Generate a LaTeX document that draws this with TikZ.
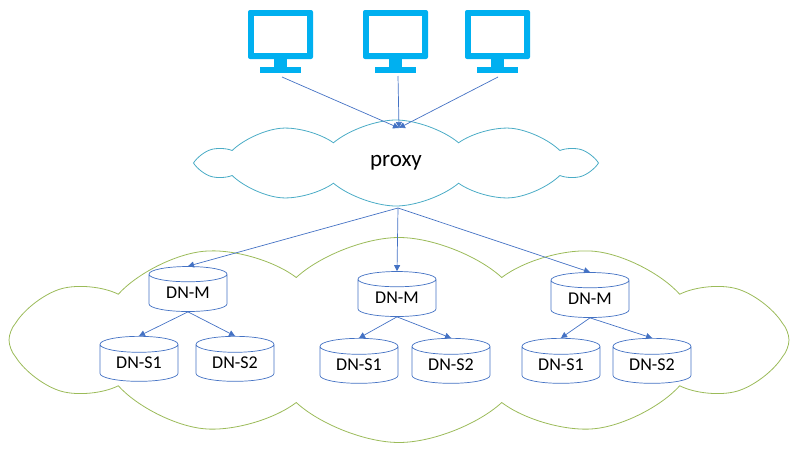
\documentclass[tikz,border=0pt]{standalone}
\usepackage{fontspec}
\setmainfont{Carlito}
\usetikzlibrary{shapes.geometric,shapes.symbols,arrows.meta}
\definecolor{mon}{RGB}{0,176,240}
\definecolor{ln}{RGB}{68,114,196}
\definecolor{pc}{RGB}{75,172,198}
\definecolor{gc}{RGB}{155,187,89}
\begin{document}
\begin{tikzpicture}[x=1pt,y=-1pt,
  arr/.style={draw=ln,-{Triangle[length=6pt,width=6pt]},line width=0.7pt},
  db/.style={cylinder,shape border rotate=90,aspect=0.35,draw=ln,fill=white,line width=0.7pt,minimum width=78pt,minimum height=45pt,inner sep=0pt,font=\fontsize{18}{18}\selectfont},
  mon/.pic={\fill[mon,rounded corners=2pt] (0,0) rectangle (65,49);
    \fill[white] (6,6) rectangle (59,43);
    \fill[mon] (26,49) rectangle (39,58);
    \fill[mon] (12,57) rectangle (53,63);}]
\useasboundingbox (0,0) rectangle (800,463);
\node[cloud,cloud puffs=12,cloud puff arc=85,aspect=4.5,draw=gc,line width=0.8pt,minimum width=780pt,minimum height=205pt,inner sep=0pt] (big) at (399,340) {};
\node[cloud,cloud puffs=10,cloud puff arc=80,aspect=4.6,draw=pc,line width=0.8pt,minimum width=390pt,minimum height=86pt,inner sep=0pt,font=\fontsize{23}{23}\selectfont] (proxy) at (396,163) {proxy};
\pic at (248,10) {mon}; \pic at (363,10) {mon}; \pic at (465,10) {mon};
\coordinate (m1) at (282,77); \coordinate (m2) at (398,76); \coordinate (m3) at (498,77);
\coordinate (pt) at (399,128); \coordinate (pb) at (398,208);
\foreach \m in {m1,m2,m3} \draw[arr] (\m) -- (pt);
\node[db] (a) at (188,293) {DN-M};
\node[db] (a1) at (139,363) {DN-S1};
\node[db] (a2) at (235,363) {DN-S2};
\node[db] (b) at (397,298) {DN-M};
\node[db] (b1) at (359,365) {DN-S1};
\node[db] (b2) at (451,365) {DN-S2};
\node[db] (c) at (590,299) {DN-M};
\node[db] (c1) at (561,365) {DN-S1};
\node[db] (c2) at (652,365) {DN-S2};
\draw[arr] (pb) -- (a.top);
\draw[arr] (pb) -- (b.top);
\draw[arr] (pb) -- (c.top);
\foreach \p in {a,b,c} {\draw[arr] (\p.bottom) -- (\p1.top); \draw[arr] (\p.bottom) -- (\p2.top);}
\end{tikzpicture}
\end{document}
